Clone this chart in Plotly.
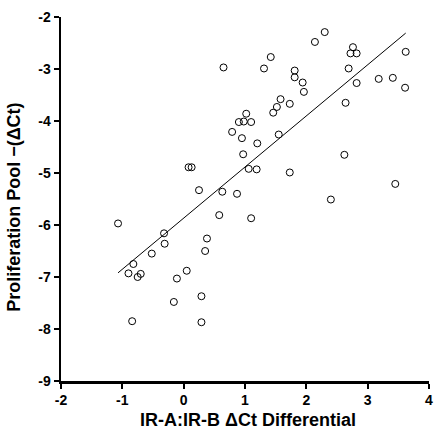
import plotly.graph_objects as go
import numpy as np

diff_x = [0.65, 0.79, 0.08, 0.13, 0.25, 0.63, 2.30, 2.14, 1.42, 1.31,
          1.81, 1.81, 1.94, 1.96, 2.76, 2.72, 2.82, 2.69, 2.82, 3.18,
          3.41, 3.62, 3.61, 2.64, 1.58, 1.52, 1.46, 1.73, 1.02, 0.90,
          0.98, 1.10, 0.95, 1.20, 1.55, 0.97, 1.06, 1.19, 1.73, 2.62,
          0.87, 2.40, 3.45, -1.07, -0.32, -0.31, -0.52, -0.82, -0.90, -0.75,
          -0.70, -0.84, -0.11, 0.05, -0.16, 0.29, 0.29, 0.35, 0.38, 0.58,
          1.10]
pool_y = [-2.97, -4.21, -4.89, -4.89, -5.33, -5.36, -2.29, -2.48, -2.77, -2.99,
          -3.03, -3.16, -3.26, -3.44, -2.58, -2.70, -2.70, -2.99, -3.27, -3.19,
          -3.17, -2.67, -3.36, -3.65, -3.58, -3.73, -3.84, -3.67, -3.86, -4.02,
          -4.01, -4.02, -4.33, -4.43, -4.26, -4.64, -4.92, -4.93, -4.99, -4.65,
          -5.40, -5.51, -5.21, -5.97, -6.16, -6.36, -6.55, -6.75, -6.93, -7.00,
          -6.94, -7.85, -7.03, -6.88, -7.48, -7.37, -7.87, -6.50, -6.26, -5.81,
          -5.87]

fit_slope = 0.983
fit_intercept = -5.868

x_ticks = [-2, -1, 0, 1, 2, 3, 4]
y_ticks = [-9, -8, -7, -6, -5, -4, -3, -2]

x_title = "IR-A:IR-B ΔCt Differential"
y_title = "Proliferation Pool −(ΔCt)"

line_x = np.array([min(diff_x), max(diff_x)])
line_y = fit_slope * line_x + fit_intercept

font_fam = "Arial, Liberation Sans, sans-serif"

W, H = 442, 432
ML, MR, MT, MB = 61, 9, 10, 51
PW, PH = W - ML - MR, H - MT - MB
plot_bottom = H - MB

fig = go.Figure()
fig.add_trace(go.Scatter(x=line_x, y=line_y, mode="lines",
                         line=dict(color="black", width=1), showlegend=False))
fig.add_trace(go.Scatter(x=diff_x, y=pool_y, mode="markers",
                         marker=dict(symbol="circle-open", size=7,
                                     color="black", line=dict(width=1)),
                         showlegend=False, cliponaxis=False))

axis_common = dict(showgrid=False, zeroline=False, showline=True,
                   linecolor="black", linewidth=2.5, ticks="outside",
                   ticklen=5, tickwidth=2, tickcolor="black",
                   ticklabeloverflow="allow",
                   tickfont=dict(family=font_fam, size=14, color="black", weight="bold"))

fig.update_xaxes(range=[-2, 4], tickvals=x_ticks,
                 ticktext=[str(v) for v in x_ticks], **axis_common)
fig.update_yaxes(range=[-9, -2], tickvals=y_ticks,
                 ticktext=[str(v) for v in y_ticks], **axis_common)

title_font = dict(family=font_fam, size=18, color="black", weight="bold")
fig.add_annotation(text=x_title, xref="paper", yref="paper",
                   x=(250 - ML) / PW, y=-(421 - plot_bottom) / PH,
                   xanchor="center", yanchor="middle", showarrow=False,
                   font=title_font)
fig.add_annotation(text=y_title, xref="paper", yref="paper",
                   x=-(ML - 14) / PW, y=(plot_bottom - 204) / PH,
                   xanchor="center", yanchor="middle", showarrow=False,
                   textangle=-90, font=title_font)

fig.update_layout(width=W, height=H, plot_bgcolor="white", paper_bgcolor="white",
                  margin=dict(l=ML, r=MR, t=MT, b=MB), showlegend=False,
                  hovermode=False)

fig.write_html("out.html", config={"displayModeBar": False, "staticPlot": True},
               post_script="document.body.style.margin='0px';document.body.style.overflow='hidden';")
